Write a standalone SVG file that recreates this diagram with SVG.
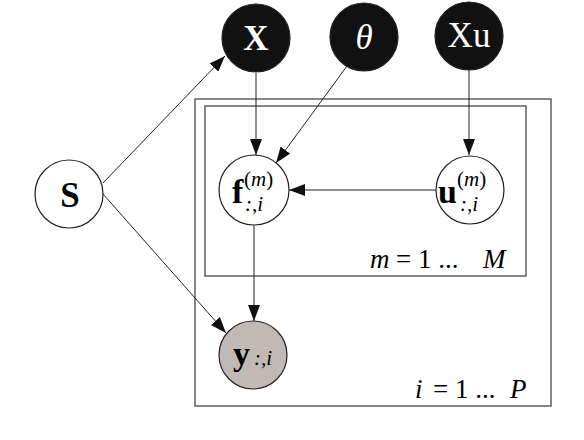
<svg xmlns="http://www.w3.org/2000/svg" width="584" height="440" viewBox="0 0 584 440">
<style>
text{font-family:"Liberation Serif","DejaVu Serif",serif;}
.node{stroke:#222;stroke-width:1.2;}
.dark{fill:#111;}
.white{fill:#fff;}
.obs{fill:#c0b9b5;}
.plate{fill:none;stroke:#555;stroke-width:1.4;}
.edge{stroke:#222;stroke-width:1;fill:none;marker-end:url(#ah);}
.big{font-size:35px;}
.sm{font-size:21px;}
.lab{font-size:27px;}
</style>
<defs>
<marker id="ah" viewBox="0 0 16 12" refX="16" refY="6" markerWidth="16" markerHeight="12" markerUnits="userSpaceOnUse" orient="auto">
<path d="M0,0 L16,6 L0,12 z" fill="#111"/>
</marker>
</defs>
<rect class="plate" x="195" y="99" width="356" height="307"/>
<rect class="plate" x="205" y="106" width="321" height="170"/>
<g id="connectors">
<line class="edge" x1="103" y1="183" x2="225" y2="56"/>
<line class="edge" x1="256" y1="73" x2="256" y2="155"/>
<line class="edge" x1="347" y1="66" x2="276" y2="163"/>
<line class="edge" x1="469" y1="70" x2="469" y2="155"/>
<line class="edge" x1="436" y1="190" x2="289" y2="190"/>
<line class="edge" x1="254" y1="225" x2="254" y2="321"/>
<line class="edge" x1="103" y1="194" x2="226" y2="333"/>
</g>
<g id="X">
<circle class="node dark" cx="256" cy="38" r="34"/>
<text class="big" x="256" y="50" fill="#fff" font-weight="bold" text-anchor="middle">X</text>
</g>
<g id="theta">
<circle class="node dark" cx="364" cy="37" r="34"/>
<text class="big" x="364" y="49" fill="#fff" font-style="italic" text-anchor="middle">θ</text>
</g>
<g id="Xu">
<circle class="node dark" cx="469" cy="36" r="34"/>
<text class="big" x="469" y="47" fill="#fff" text-anchor="middle">Xu</text>
</g>
<g id="S">
<circle class="node white" cx="69" cy="194" r="34"/>
<text class="big" x="70" y="207" font-weight="bold" text-anchor="middle">S</text>
</g>
<g id="f">
<circle class="node white" cx="254" cy="190" r="35"/>
<text x="232" y="203" font-size="34" font-weight="bold">f</text>
<text class="sm" x="244" y="186"><tspan>(</tspan><tspan font-style="italic">m</tspan><tspan>)</tspan></text>
<text class="sm" x="245" y="211" font-style="italic">:,i</text>
</g>
<g id="u">
<circle class="node white" cx="470" cy="190" r="34"/>
<text x="438" y="203" font-size="34" font-weight="bold">u</text>
<text class="sm" x="457" y="186"><tspan>(</tspan><tspan font-style="italic">m</tspan><tspan>)</tspan></text>
<text class="sm" x="460" y="211" font-style="italic">:,i</text>
</g>
<g id="y">
<circle class="node obs" cx="253" cy="355" r="34"/>
<text x="233" y="365" font-size="34" font-weight="bold">y</text>
<text class="sm" x="254" y="365" font-style="italic">:,i</text>
</g>
<text class="lab" x="370" y="268"><tspan font-style="italic">m</tspan><tspan x="396">= 1 ...</tspan><tspan x="483" font-style="italic">M</tspan></text>
<text class="lab" x="415" y="398"><tspan font-style="italic">i</tspan><tspan x="433">= 1 ...</tspan><tspan x="510" font-style="italic">P</tspan></text>
</svg>
